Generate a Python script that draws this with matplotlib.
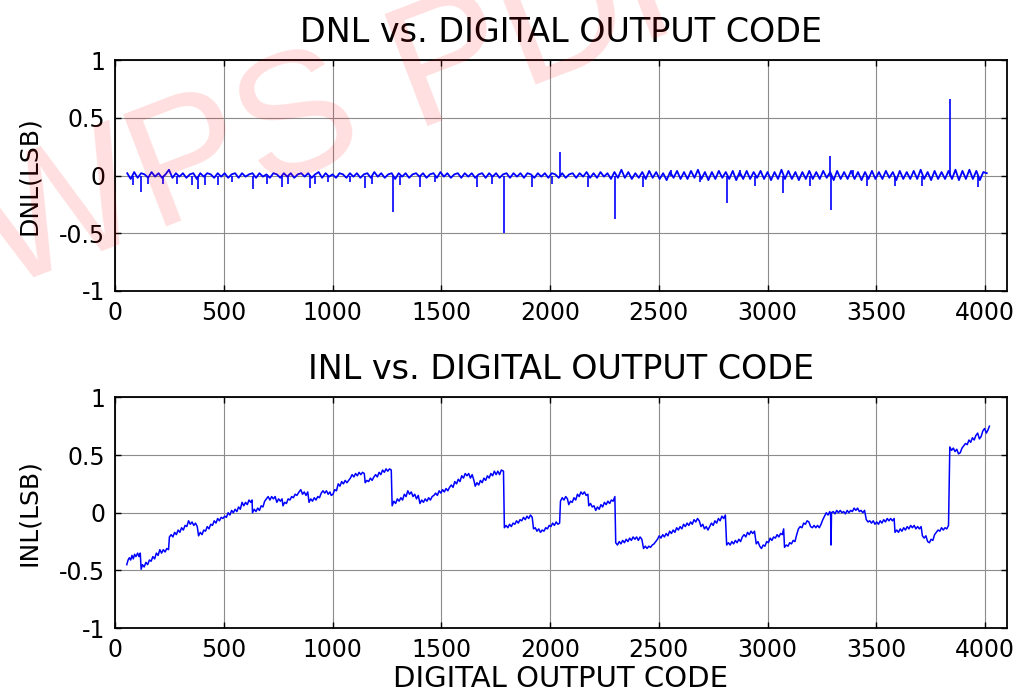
import numpy as np
import matplotlib
matplotlib.use("Agg")
import matplotlib.pyplot as plt

plt.rcParams['font.family'] = ['DejaVu Sans']

# DNL: small ripple read every 16 codes, plus the visible spikes
dnl_ripple_start = 56
dnl_ripple_step = 16
dnl_ripple = [
    0.02, -0.03, 0.03, -0.02, 0.02, 0.01, -0.02, 0.03, -0.01, 0.02, -0.02, 0.01, 0.05, -0.02, 0.02, -0.01,
    0.02, -0.02, 0.01, 0.02, -0.03, 0.02, -0.01, 0.02, 0.01, -0.02, 0.02, -0.01, 0.02, -0.02, 0.01, 0.02,
    -0.02, 0.02, -0.01, 0.01, 0.02, -0.02, 0.02, -0.01, 0.01, -0.02, 0.02, 0.01, -0.02, 0.02, -0.01, 0.02,
    -0.02, 0.01, 0.02, -0.01, 0.02, -0.02, 0.01, 0.03, -0.02, 0.02, -0.01, 0.01, -0.02, 0.02, 0.01, -0.02,
    0.02, -0.01, 0.02, -0.02, 0.01, 0.02, -0.02, 0.03, -0.01, 0.02, -0.02, 0.01, 0.02, -0.03, 0.02, -0.01,
    0.02, -0.02, 0.01, 0.02, -0.01, 0.02, -0.02, 0.01, 0.02, -0.02, 0.03, -0.01, 0.02, -0.02, 0.01, 0.02,
    -0.02, 0.02, -0.01, 0.02, -0.02, 0.01, 0.02, -0.02, 0.02, -0.01, 0.02, -0.02, 0.01, 0.02, -0.02, 0.02,
    -0.01, 0.02, -0.02, 0.02, 0.01, -0.02, 0.02, -0.01, 0.02, -0.02, 0.02, 0.01, -0.02, 0.02, -0.02, 0.01,
    0.02, -0.02, 0.02, -0.01, 0.03, -0.02, 0.02, -0.02, 0.03, -0.01, 0.02, -0.03, 0.03, -0.02, 0.05, -0.02,
    0.03, -0.03, 0.02, -0.02, 0.03, -0.03, 0.04, -0.02, 0.03, -0.03, 0.02, -0.04, 0.03, -0.02, 0.04, -0.03,
    0.03, -0.03, 0.04, -0.02, 0.05, -0.03, 0.03, -0.04, 0.03, -0.03, 0.04, -0.02, 0.03, -0.03, 0.04, -0.04,
    0.03, -0.03, 0.04, -0.03, 0.03, -0.02, 0.04, -0.03, 0.03, -0.04, 0.03, -0.03, 0.05, -0.03, 0.04, -0.03,
    0.03, -0.04, 0.03, -0.03, 0.04, -0.03, 0.03, -0.03, 0.04, -0.02, 0.03, -0.04, 0.04, -0.03, 0.03, -0.03,
    0.04, -0.03, 0.03, -0.04, 0.03, -0.03, 0.04, -0.03, 0.03, -0.03, 0.04, -0.02, 0.03, -0.04, 0.04, -0.03,
    0.03, -0.03, 0.04, -0.03, 0.05, -0.03, 0.03, -0.04, 0.04, -0.03, 0.03, -0.03, 0.04, -0.03, 0.05, -0.04,
    0.04, -0.03, 0.05, -0.03, 0.04, -0.04, 0.03, 0.02,
]
dnl_spike_code = [84, 120, 153, 222, 284, 352, 380, 414, 472, 536, 633, 697, 766, 797, 897, 920,
                  981, 1080, 1149, 1180, 1280, 1310, 1402, 1471, 1663, 1732, 1790, 1916, 2008, 2048,
                  2173, 2300, 2429, 2556, 2690, 2812, 2874, 2943, 3073, 3195, 3288, 3292, 3395, 3456,
                  3586, 3709, 3839, 3969]
dnl_spike_val = [-0.08, -0.14, -0.07, -0.07, -0.07, -0.08, -0.12, -0.08, -0.08, -0.06, -0.12, -0.07,
                 -0.10, -0.07, -0.11, -0.07, -0.06, -0.06, -0.11, -0.07, -0.32, -0.08, -0.10, -0.06,
                 -0.10, -0.07, -0.50, -0.10, -0.07, 0.20, -0.10, -0.38, -0.10, 0.05, -0.06, -0.24,
                 0.05, -0.09, -0.15, -0.09, 0.17, -0.30, 0.05, -0.09, -0.09, -0.09, 0.66, -0.10]

# INL (code, LSB)
inl_code = [
    54, 60, 66, 72, 78, 84, 90, 96, 104, 110, 116, 120, 126, 134, 142, 150, 158, 166, 174, 182,
    190, 198, 206, 214, 222, 230, 238, 246, 250, 258, 266, 274, 282, 290, 298, 306, 314, 322, 330, 338,
    346, 354, 362, 370, 378, 384, 392, 400, 408, 416, 424, 432, 440, 448, 456, 464, 472, 480, 488, 496,
    504, 512, 520, 528, 536, 544, 552, 560, 568, 576, 584, 592, 600, 608, 616, 624, 630, 632, 640, 648,
    656, 664, 672, 680, 688, 696, 704, 712, 720, 728, 736, 744, 752, 760, 768, 772, 780, 788, 796, 804,
    812, 820, 828, 836, 846, 854, 862, 870, 878, 886, 892, 900, 908, 916, 924, 932, 940, 948, 956, 964,
    972, 980, 988, 994, 1002, 1010, 1018,
    1026, 1034, 1042, 1050, 1058, 1066, 1074, 1082, 1090, 1098, 1106, 1114, 1122, 1130, 1138, 1146, 1150, 1158,
    1166, 1174, 1182, 1190, 1198, 1206, 1214, 1222, 1230, 1238, 1246, 1254, 1262, 1270, 1274, 1282, 1290, 1298,
    1306, 1314, 1322, 1330, 1338, 1346, 1354, 1362, 1370, 1378, 1386, 1394, 1402, 1410, 1418, 1426, 1434, 1442,
    1450, 1458, 1466, 1474, 1482, 1490, 1498, 1506, 1514, 1522, 1530, 1538, 1546, 1554, 1562, 1570, 1578, 1586,
    1594, 1602, 1610, 1618, 1626, 1634, 1642, 1650, 1656, 1664, 1672, 1680, 1688, 1696, 1704, 1712, 1720, 1728,
    1736, 1744, 1752, 1760, 1768, 1776, 1786, 1790, 1798, 1806, 1814, 1822, 1830, 1838, 1846, 1854, 1862, 1870,
    1878, 1886, 1894, 1902, 1910, 1918, 1924, 1932, 1940, 1948, 1956, 1964, 1972, 1980, 1988, 1996, 2004, 2012,
    2020, 2028, 2036, 2044,
    2048, 2056, 2064, 2072, 2080, 2086, 2094, 2102, 2110, 2118, 2126, 2134, 2142, 2150, 2158, 2166, 2174, 2178,
    2186, 2194, 2202, 2210, 2218, 2226, 2234, 2242, 2250, 2258, 2266, 2274, 2282, 2290, 2298, 2302, 2310, 2318,
    2326, 2334, 2342, 2350, 2358, 2366, 2374, 2382, 2390, 2398, 2406, 2414, 2422, 2430, 2438, 2446, 2454, 2462,
    2470, 2478, 2486, 2494, 2502, 2510, 2518, 2526, 2534, 2542, 2550, 2558, 2566, 2574, 2582, 2590, 2598, 2606,
    2614, 2622, 2630, 2638, 2646, 2654, 2662, 2670, 2678, 2686, 2694, 2702, 2710, 2718, 2726, 2734, 2742, 2750,
    2758, 2766, 2774, 2782, 2790, 2798, 2806, 2812, 2820, 2828, 2836, 2844, 2852, 2860, 2868, 2876, 2884, 2892,
    2900, 2908, 2916, 2924, 2932, 2940, 2948, 2956, 2964, 2972, 2980, 2988, 2996, 3004, 3012, 3020, 3028, 3036,
    3044, 3052, 3060,
    3068, 3074, 3078, 3086, 3094, 3102, 3110, 3118, 3126, 3134, 3142, 3150, 3158, 3166, 3174, 3182, 3190, 3198,
    3206, 3214, 3222, 3230, 3238, 3246, 3254, 3262, 3270, 3278, 3286, 3290, 3292, 3294, 3302, 3310, 3318, 3326,
    3334, 3342, 3350, 3358, 3366, 3374, 3382, 3390, 3398, 3406, 3414, 3422, 3430, 3438, 3446, 3454, 3462, 3470,
    3478, 3486, 3494, 3502, 3510, 3518, 3526, 3534, 3542, 3550, 3558, 3566, 3574, 3582, 3586, 3594, 3602, 3610,
    3618, 3626, 3634, 3642, 3650, 3658, 3666, 3674, 3682, 3690, 3698, 3706, 3712, 3720, 3728, 3736, 3744, 3752,
    3760, 3768, 3776, 3784, 3792, 3800, 3808, 3816, 3824, 3832, 3838, 3846, 3854, 3862, 3870, 3878, 3886, 3894,
    3902, 3910, 3918, 3926, 3934, 3942, 3950, 3958, 3966, 3974, 3982, 3990, 3998, 4006, 4014, 4020,
]
inl_val = [
    -0.45, -0.41, -0.39, -0.41, -0.37, -0.40, -0.36, -0.38, -0.35, -0.38, -0.35, -0.49, -0.45, -0.47, -0.43, -0.45, -0.41, -0.42, -0.38, -0.40,
    -0.35, -0.37, -0.32, -0.35, -0.32, -0.34, -0.31, -0.32, -0.21, -0.19, -0.21, -0.17, -0.19, -0.15, -0.17, -0.13, -0.15, -0.11, -0.12, -0.07,
    -0.10, -0.08, -0.11, -0.09, -0.12, -0.20, -0.17, -0.19, -0.15, -0.16, -0.12, -0.14, -0.10, -0.11, -0.07, -0.09, -0.05, -0.07, -0.04, -0.05,
    -0.03, -0.04, 0.00, -0.02, 0.02, 0.00, 0.03, 0.01, 0.05, 0.03, 0.09, 0.06, 0.09, 0.07, 0.11, 0.09, 0.11, 0.00, 0.03, 0.01,
    0.04, 0.02, 0.06, 0.05, 0.10, 0.12, 0.14, 0.11, 0.14, 0.12, 0.14, 0.09, 0.12, 0.10, 0.12, 0.06, 0.09, 0.08, 0.12, 0.11,
    0.14, 0.13, 0.16, 0.15, 0.18, 0.20, 0.16, 0.18, 0.15, 0.18, 0.09, 0.12, 0.10, 0.13, 0.11, 0.14, 0.13, 0.17, 0.19, 0.17,
    0.19, 0.16, 0.18, 0.15, 0.16, 0.20, 0.19,
    0.25, 0.23, 0.27, 0.25, 0.28, 0.26, 0.28, 0.30, 0.33, 0.31, 0.34, 0.32, 0.35, 0.33, 0.35, 0.34, 0.26, 0.28,
    0.27, 0.30, 0.28, 0.31, 0.33, 0.31, 0.35, 0.33, 0.37, 0.35, 0.38, 0.36, 0.38, 0.37, 0.06, 0.10, 0.08, 0.12,
    0.10, 0.13, 0.11, 0.16, 0.14, 0.19, 0.16, 0.18, 0.14, 0.16, 0.12, 0.15, 0.08, 0.11, 0.09, 0.12, 0.10, 0.13,
    0.11, 0.14, 0.15, 0.17, 0.15, 0.19, 0.17, 0.20, 0.18, 0.21, 0.19, 0.22, 0.24, 0.22, 0.27, 0.25, 0.29, 0.27,
    0.32, 0.30, 0.34, 0.32, 0.34, 0.30, 0.33, 0.28, 0.23, 0.26, 0.24, 0.28, 0.26, 0.30, 0.28, 0.32, 0.30, 0.34,
    0.32, 0.36, 0.33, 0.36, 0.33, 0.37, 0.36, -0.13, -0.11, -0.13, -0.10, -0.12, -0.09, -0.10, -0.07, -0.09, -0.06, -0.07,
    -0.04, -0.06, -0.03, -0.05, -0.02, -0.04, -0.14, -0.13, -0.16, -0.14, -0.17, -0.15, -0.16, -0.13, -0.14, -0.11, -0.12, -0.09,
    -0.11, -0.08, -0.10, -0.09,
    0.10, 0.13, 0.11, 0.14, 0.12, 0.07, 0.10, 0.09, 0.13, 0.11, 0.16, 0.14, 0.18, 0.16, 0.18, 0.15, 0.16, 0.06,
    0.08, 0.05, 0.06, 0.02, 0.05, 0.03, 0.07, 0.05, 0.09, 0.07, 0.10, 0.08, 0.11, 0.10, 0.14, -0.26, -0.28, -0.25,
    -0.27, -0.24, -0.26, -0.23, -0.25, -0.22, -0.24, -0.21, -0.23, -0.21, -0.24, -0.21, -0.23, -0.31, -0.29, -0.31, -0.29, -0.30,
    -0.28, -0.27, -0.25, -0.23, -0.20, -0.22, -0.19, -0.21, -0.18, -0.20, -0.16, -0.18, -0.15, -0.17, -0.13, -0.15, -0.12, -0.14,
    -0.10, -0.12, -0.09, -0.11, -0.08, -0.10, -0.06, -0.08, -0.05, -0.07, -0.12, -0.10, -0.14, -0.12, -0.15, -0.12, -0.09, -0.11,
    -0.07, -0.09, -0.05, -0.07, -0.03, -0.05, -0.02, -0.28, -0.26, -0.28, -0.25, -0.27, -0.24, -0.26, -0.23, -0.25, -0.21, -0.19,
    -0.21, -0.17, -0.19, -0.16, -0.18, -0.16, -0.27, -0.25, -0.29, -0.31, -0.28, -0.29, -0.25, -0.26, -0.22, -0.24, -0.21, -0.22,
    -0.19, -0.21, -0.18,
    -0.19, -0.14, -0.30, -0.28, -0.29, -0.26, -0.27, -0.24, -0.25, -0.19, -0.14, -0.12, -0.13, -0.09, -0.10, -0.07, -0.08, -0.12,
    -0.13, -0.11, -0.13, -0.11, -0.13, -0.10, -0.06, -0.03, 0.00, -0.02, 0.01, -0.02, -0.28, 0.00, 0.01, -0.01, 0.02, 0.00,
    0.02, 0.00, 0.01, -0.01, 0.02, 0.00, 0.02, 0.01, 0.04, 0.02, 0.04, 0.01, 0.02, 0.00, 0.02, -0.06, -0.08, -0.07,
    -0.09, -0.07, -0.10, -0.08, -0.10, -0.07, -0.09, -0.06, -0.08, -0.05, -0.07, -0.05, -0.07, -0.05, -0.17, -0.15, -0.17, -0.14,
    -0.16, -0.13, -0.15, -0.12, -0.14, -0.11, -0.13, -0.11, -0.14, -0.12, -0.14, -0.12, -0.20, -0.22, -0.20, -0.25, -0.26, -0.23,
    -0.24, -0.19, -0.17, -0.15, -0.16, -0.13, -0.15, -0.13, -0.14, -0.11, 0.57, 0.54, 0.56, 0.53, 0.55, 0.51, 0.52, 0.56,
    0.58, 0.60, 0.59, 0.63, 0.61, 0.65, 0.63, 0.67, 0.69, 0.64, 0.66, 0.71, 0.73, 0.69, 0.72, 0.75,
]

x_ticks = [0, 500, 1000, 1500, 2000, 2500, 3000, 3500, 4000]
y_ticks = [-1, -0.5, 0, 0.5, 1]
y_ticklabels = ['-1', '-0.5', '0', '0.5', '1']

fig = plt.figure(figsize=(10.18, 6.91), dpi=100)
ax1 = fig.add_axes([0.113, 0.579, 0.876, 0.334])
ax2 = fig.add_axes([0.113, 0.091, 0.876, 0.334])

ripple_code = dnl_ripple_start + dnl_ripple_step * np.arange(len(dnl_ripple))
ax1.plot(ripple_code, dnl_ripple, color='#0000ff', lw=1.3)
ax1.vlines(dnl_spike_code, 0, dnl_spike_val, color='#0000ff', lw=1.2)
ax2.plot(inl_code, inl_val, color='#0000ff', lw=1.1)

for ax, title, ylab in [(ax1, 'DNL vs. DIGITAL OUTPUT CODE', 'DNL(LSB)'),
                        (ax2, 'INL vs. DIGITAL OUTPUT CODE', 'INL(LSB)')]:
    ax.set_xlim(0, 4100)
    ax.set_ylim(-1, 1)
    ax.set_xticks(x_ticks)
    ax.set_yticks(y_ticks)
    ax.set_yticklabels(y_ticklabels)
    ax.grid(True, color='#8c8c8c', lw=0.8)
    ax.set_axisbelow(True)
    ax.tick_params(direction='in', top=True, right=True, length=4, width=1,
                   labelsize=17, pad=7)
    for s in ax.spines.values():
        s.set_linewidth(1.3)
    ax.set_title(title, fontsize=24, pad=13)
    ax.set_ylabel(ylab, fontsize=18, labelpad=13)

ax2.set_xlabel('DIGITAL OUTPUT CODE', fontsize=21, labelpad=2)

# faint diagonal watermark seen in the source image
fig.text(0.0, 0.58, 'WPS PDF', fontsize=125, color='red', alpha=0.13,
         family=['Liberation Sans Narrow', 'Liberation Sans'],
         rotation=21, rotation_mode='anchor', ha='left', va='baseline', zorder=10)

fig.savefig('out.png', dpi=100)
